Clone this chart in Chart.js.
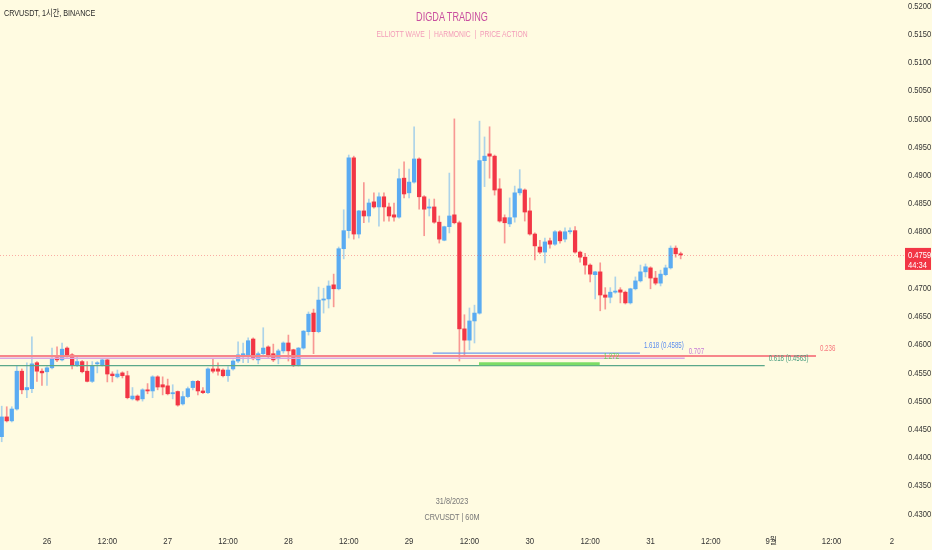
<!DOCTYPE html>
<html><head><meta charset="utf-8">
<script src="https://cdn.jsdelivr.net/npm/chart.js@4.4.0/dist/chart.umd.min.js"></script>
<style>
html,body{margin:0;padding:0;background:#fffbe1;}
#wrap{position:relative;width:932px;height:550px;overflow:hidden;background:#fffbe1;}
canvas{position:absolute;left:0;top:0;}
.t{position:absolute;white-space:nowrap;font-family:'Liberation Sans','DejaVu Sans',sans-serif;line-height:1;}
.c{left:0;width:904px;text-align:center;transform:scaleX(0.81);transform-origin:452px 0;}
</style></head><body>
<div id="wrap">
<canvas id="c" width="932" height="550"></canvas>
<div class="t" style="left:4px;top:8px;font-size:9.5px;color:#2a2a2a;transform:scaleX(0.76);transform-origin:0 0;font-family:'Liberation Sans','Noto Sans CJK KR',sans-serif">CRVUSDT, 1시간, BINANCE</div>
<div class="t c" style="top:11px;font-size:12px;color:#c94f9f;transform:scaleX(0.76)">DIGDA TRADING</div>
<div class="t c" style="top:30px;font-size:9px;color:#f39bb8;transform:scaleX(0.75)">ELLIOTT WAVE &nbsp;| &nbsp;HARMONIC &nbsp;| &nbsp;PRICE ACTION</div>
<div class="t c" style="top:497px;font-size:9px;color:#777">31/8/2023</div>
<div class="t c" style="top:513px;font-size:9px;color:#777">CRVUSDT | 60M</div>
</div>
<script>
// ---- data (hourly candles, 25 Aug 15:00 -> 31 Aug 06:00) ----
const opens = [0.4437,0.4472,0.4465,0.4486,0.4553,0.4520,0.4522,0.4568,0.4553,0.4552,
0.4559,0.4577,0.4573,0.4594,0.4582,0.4564,0.4570,0.4553,0.4535,0.4566,
0.4564,0.4573,0.4548,0.4543,0.4550,0.4545,0.4504,0.4509,0.4504,0.4520,
0.4518,0.4543,0.4529,0.4527,0.4513,0.4517,0.4495,0.4508,0.4524,0.4535,
0.4518,0.4515,0.4557,0.4557,0.4555,0.4545,0.4557,0.4571,0.4580,0.4582,
0.4610,0.4573,0.4584,0.4596,0.4584,0.4575,0.4589,0.4603,0.4591,0.4564,
0.4594,0.4623,0.4656,0.4623,0.4679,0.4681,0.4706,0.4699,0.4770,0.4802,
0.4931,0.4796,0.4837,0.4828,0.4853,0.4844,0.4862,0.4844,0.4830,0.4826,
0.4895,0.4869,0.4888,0.4929,0.4862,0.4842,0.4844,0.4817,0.4785,0.4809,
0.4830,0.4816,0.4628,0.4608,0.4642,0.4656,0.4926,0.4938,0.4934,0.4876,
0.4825,0.4814,0.4826,0.4869,0.4874,0.4837,0.4796,0.4773,0.4764,0.4784,
0.4778,0.4800,0.4787,0.4800,0.4802,0.4764,0.4755,0.4741,0.4724,0.4729,
0.4688,0.4684,0.4693,0.4697,0.4693,0.4674,0.4699,0.4713,0.4729,0.4736,
0.4718,0.4709,0.4724,0.4736,0.4771,0.4761];
const highs = [0.4491,0.4490,0.4490,0.4562,0.4557,0.4568,0.4614,0.4570,0.4557,0.4561,
0.4594,0.4596,0.4603,0.4596,0.4584,0.4578,0.4572,0.4570,0.4570,0.4570,
0.4575,0.4575,0.4552,0.4555,0.4552,0.4553,0.4524,0.4511,0.4522,0.4531,
0.4545,0.4545,0.4543,0.4539,0.4529,0.4518,0.4517,0.4525,0.4536,0.4537,
0.4524,0.4559,0.4575,0.4568,0.4557,0.4561,0.4573,0.4605,0.4603,0.4612,
0.4612,0.4587,0.4630,0.4598,0.4601,0.4592,0.4605,0.4617,0.4592,0.4595,
0.4625,0.4658,0.4663,0.4702,0.4700,0.4713,0.4725,0.4773,0.4839,0.4936,
0.4934,0.4838,0.4887,0.4858,0.4869,0.4869,0.4869,0.4851,0.4851,0.4911,
0.4924,0.4911,0.4986,0.4931,0.4864,0.4858,0.4858,0.4828,0.4810,0.4904,
0.5000,0.4819,0.4653,0.4665,0.4670,0.4996,0.4968,0.4986,0.4936,0.4894,
0.4830,0.4860,0.4881,0.4910,0.4876,0.4860,0.4798,0.4785,0.4789,0.4789,
0.4802,0.4802,0.4807,0.4807,0.4809,0.4766,0.4762,0.4743,0.4730,0.4745,
0.4701,0.4701,0.4720,0.4701,0.4695,0.4700,0.4720,0.4741,0.4743,0.4738,
0.4730,0.4732,0.4741,0.4775,0.4775,0.4764];
const lows = [0.4428,0.4463,0.4463,0.4484,0.4513,0.4506,0.4515,0.4535,0.4528,0.4528,
0.4557,0.4570,0.4571,0.4578,0.4557,0.4561,0.4550,0.4534,0.4533,0.4550,
0.4562,0.4534,0.4534,0.4541,0.4541,0.4504,0.4502,0.4500,0.4500,0.4513,
0.4506,0.4520,0.4511,0.4511,0.4504,0.4491,0.4493,0.4506,0.4520,0.4511,
0.4513,0.4513,0.4550,0.4546,0.4543,0.4535,0.4555,0.4568,0.4568,0.4568,
0.4573,0.4566,0.4582,0.4577,0.4570,0.4566,0.4585,0.4571,0.4561,0.4562,
0.4592,0.4617,0.4584,0.4621,0.4656,0.4665,0.4667,0.4697,0.4752,0.4789,
0.4787,0.4789,0.4816,0.4817,0.4842,0.4810,0.4819,0.4819,0.4819,0.4824,
0.4860,0.4860,0.4886,0.4840,0.4793,0.4828,0.4815,0.4780,0.4784,0.4798,
0.4814,0.4571,0.4582,0.4591,0.4603,0.4654,0.4880,0.4895,0.4865,0.4817,
0.4780,0.4809,0.4817,0.4865,0.4819,0.4794,0.4750,0.4761,0.4745,0.4771,
0.4776,0.4780,0.4782,0.4796,0.4762,0.4746,0.4725,0.4711,0.4681,0.4660,
0.4663,0.4674,0.4691,0.4674,0.4672,0.4672,0.4697,0.4711,0.4720,0.4699,
0.4706,0.4704,0.4722,0.4734,0.4755,0.4752];
const closes = [0.4472,0.4465,0.4486,0.4553,0.4520,0.4524,0.4566,0.4553,0.4550,0.4559,
0.4575,0.4573,0.4592,0.4580,0.4564,0.4570,0.4552,0.4535,0.4562,0.4568,
0.4573,0.4548,0.4545,0.4548,0.4545,0.4506,0.4509,0.4502,0.4520,0.4518,
0.4543,0.4525,0.4525,0.4513,0.4515,0.4493,0.4508,0.4522,0.4535,0.4518,
0.4515,0.4557,0.4553,0.4553,0.4545,0.4555,0.4571,0.4582,0.4584,0.4607,
0.4575,0.4584,0.4594,0.4582,0.4573,0.4589,0.4603,0.4589,0.4564,0.4594,
0.4624,0.4654,0.4623,0.4679,0.4681,0.4704,0.4699,0.4770,0.4802,0.4931,
0.4796,0.4837,0.4828,0.4851,0.4844,0.4862,0.4844,0.4828,0.4826,0.4894,
0.4867,0.4888,0.4929,0.4862,0.4840,0.4844,0.4817,0.4787,0.4809,0.4828,
0.4816,0.4628,0.4608,0.4642,0.4656,0.4926,0.4934,0.4934,0.4874,0.4819,
0.4816,0.4825,0.4869,0.4876,0.4835,0.4796,0.4775,0.4764,0.4782,0.4778,
0.4800,0.4784,0.4800,0.4802,0.4764,0.4755,0.4741,0.4725,0.4729,0.4688,
0.4684,0.4693,0.4695,0.4693,0.4674,0.4699,0.4713,0.4729,0.4738,0.4718,
0.4709,0.4725,0.4736,0.4771,0.4761,0.4759];

const timeLabels = ['26','12:00','27','12:00','28','12:00','29','12:00','30','12:00','31','12:00','9월','12:00','2'];
const timeTickIdx = [9,21,33,45,57,69,81,93,105,117,129,141,153,165,177];
const priceTicks = [0.52,0.515,0.51,0.505,0.5,0.495,0.49,0.485,0.48,0.47,0.465,0.46,0.455,0.45,0.445,0.44,0.435,0.43];

const lastPrice = 0.4759;
const countdown = '44:34';

const fibLabels = ['0.236','0.707','1.618 (0.4585)','0.618 (0.4563)','1.272'];
const fibPrices = [0.4580,0.4576,0.4585,0.4563,0.4566];
const fibStart = [-1,-1,85.7,-1,94.9];
const fibEnd = [161.9,135.8,126.9,151.7,118.9];

// ---- styles ----
const UP = '#5aabf2', DOWN = '#f23645';
const UPW = 'rgba(90,171,242,0.5)', DOWNW = 'rgba(242,54,69,0.5)';
const FONT = "'Liberation Sans','DejaVu Sans','Noto Sans CJK KR',sans-serif";
const fibStyle = [
  {line:'#f7868a', w:2, text:'#f7777d'},
  {line:'#d8a8e2', w:1.5, text:'#c77dd6'},
  {line:'#6f98ee', w:1.2, text:'#5b8def'},
  {line:'#5aa88a', w:1.2, text:'#4a9d7f'},
  {line:'#7ddc66', w:3, text:'#6ccf55'}
];

const isUp = opens.map((o,i)=>closes[i]>=o);
const bodies = opens.map((o,i)=>({x:i, y:[o, closes[i]]}));
const wicks = highs.map((h,i)=>({x:i, y:[lows[i], h]}));

function condText(ctx, text, x, y, sx, align){
  ctx.save(); ctx.translate(x, y); ctx.scale(sx, 1); ctx.textAlign = align; ctx.fillText(text, 0, 0); ctx.restore();
}

const overlay = {
  id:'overlay',
  beforeDraw(chart){
    const c = chart.ctx; c.save(); c.fillStyle='#fffbe1'; c.fillRect(0,0,chart.width,chart.height); c.restore();
  },
  afterDatasetsDraw(chart){
    const {ctx, chartArea:a, scales:{x,y}} = chart;
    ctx.save();
    const py = Math.round(y.getPixelForValue(lastPrice))+0.5;
    ctx.strokeStyle='rgba(242,54,69,0.4)'; ctx.lineWidth=1; ctx.setLineDash([1,2]);
    ctx.beginPath(); ctx.moveTo(a.left,py); ctx.lineTo(a.right,py); ctx.stroke();
    ctx.setLineDash([]);
    ctx.font = '8.5px '+FONT; ctx.textBaseline='middle';
    fibPrices.forEach((p,i)=>{
      const yy = y.getPixelForValue(p);
      const x0 = Math.max(a.left, x.getPixelForValue(fibStart[i]));
      const x1 = x.getPixelForValue(fibEnd[i]);
      ctx.strokeStyle = fibStyle[i].line; ctx.lineWidth = fibStyle[i].w;
      ctx.beginPath(); ctx.moveTo(x0,yy); ctx.lineTo(x1,yy); ctx.stroke();
      ctx.fillStyle = fibStyle[i].text;
      condText(ctx, fibLabels[i], x1+4, yy-7, 0.72, 'left');
    });
    ctx.restore();
  },
  afterDraw(chart){
    const {ctx, chartArea:a, scales:{x,y}} = chart;
    ctx.save();
    ctx.fillStyle = '#333'; ctx.font = '9.5px '+FONT; ctx.textBaseline='middle';
    y.ticks.forEach(t=>{
      condText(ctx, t.value.toFixed(4), a.right+4, y.getPixelForValue(t.value), 0.8, 'left');
    });
    x.ticks.forEach((t,i)=>{
      condText(ctx, timeLabels[i], x.getPixelForValue(t.value), 541, 0.82, 'center');
    });
    const py = y.getPixelForValue(lastPrice);
    ctx.fillStyle = DOWN;
    ctx.fillRect(a.right+1, py-7, chart.width-a.right-2, 22);
    ctx.fillStyle = '#fff';
    condText(ctx, lastPrice.toFixed(4), a.right+4, py, 0.8, 'left');
    condText(ctx, countdown, a.right+4, py+10, 0.8, 'left');
    ctx.restore();
  }
};

new Chart(document.getElementById('c'), {
  type:'bar',
  data:{datasets:[
    {data:bodies, grouped:false, barThickness:3.6, minBarLength:1, order:0,
     backgroundColor:isUp.map(u=>u?UP:DOWN), borderWidth:0},
    {data:wicks, grouped:false, barThickness:1, order:1,
     backgroundColor:isUp.map(u=>u?UPW:DOWNW), borderWidth:0}
  ]},
  options:{
    responsive:false, animation:false, events:[],
    layout:{padding:0},
    plugins:{legend:{display:false}, tooltip:{enabled:false}},
    scales:{
      x:{type:'linear', min:-0.34, max:179.4, offset:false,
         grid:{display:false, drawTicks:false, offset:false}, border:{display:false},
         afterBuildTicks:s=>{ s.ticks = timeTickIdx.map(v=>({value:v})); },
         afterFit:s=>{ s.height = 20; s.paddingLeft = 0; s.paddingRight = 0; },
         ticks:{display:false, autoSkip:false}},
      y:{type:'linear', position:'right', min:0.427165, max:0.521063, beginAtZero:false,
         grid:{display:false, drawTicks:false}, border:{display:false},
         afterBuildTicks:s=>{ s.ticks = priceTicks.map(v=>({value:v})); },
         afterFit:s=>{ s.width = 28; s.paddingTop = 0; s.paddingBottom = 0; },
         ticks:{display:false}}
    }
  },
  plugins:[overlay]
});
</script>
</body></html>
